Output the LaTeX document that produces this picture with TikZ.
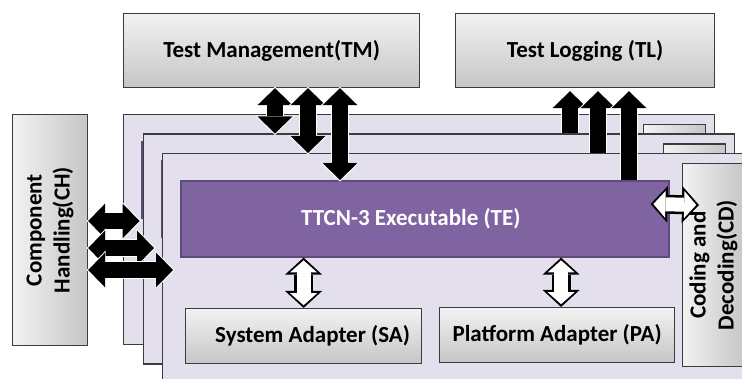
\documentclass[tikz,border=0pt]{standalone}
\usepackage{fontspec}
\setmainfont{Carlito}
\usepackage{tikz}
\usetikzlibrary{arrows.meta, calc}

\definecolor{lavender}{HTML}{E4DFEC}
\definecolor{tefill}{HTML}{8064A2}
\definecolor{tedraw}{HTML}{5E4A7C}
\definecolor{edge}{HTML}{3C3C3C}

\tikzset{
  blk/.tip  = {Triangle[length=17pt, width=35pt, line width=0pt]},
  blko/.tip = {Triangle[length=19pt, width=39pt, line width=0pt]},
  wht/.tip  = {Triangle[length=12pt, width=27pt, line width=0pt]},
  whto/.tip = {Triangle[length=17pt, width=37pt, line width=0pt]},
}

\begin{document}
\begin{tikzpicture}[x=1pt, y=-1pt,
  bigfont/.style  = {font=\fontsize{23}{28}\selectfont\bfseries},
  greybox/.style  = {draw=edge, line width=1.2pt, top color=gray!10,
                     bottom color=gray!45, inner sep=0pt, anchor=north west},
  sidebox/.style  = {draw=edge, line width=1.2pt, left color=gray!10,
                     right color=gray!45, inner sep=0pt, anchor=north west},
  sidetext/.style = {rotate=90, align=center, bigfont},
  layerbox/.style = {draw=edge, line width=1.3pt, fill=lavender,
                     minimum width=591pt, minimum height=230pt, anchor=north west},
  tebox/.style    = {draw=tedraw, line width=1.6pt, fill=tefill, inner sep=0pt,
                     minimum width=488pt, minimum height=76pt, anchor=north west},
  blkdbl/.style   = {line width=16pt, arrows={blk-blk},
                     preaction={draw=white, line width=18pt, arrows={blko-blko},
                                shorten <=-1.5pt, shorten >=-1.5pt}},
  blkup/.style    = {line width=16pt, arrows={-blk},
                     preaction={draw=white, line width=18pt, arrows={-blko},
                                shorten >=-1.5pt}},
  whdbl/.style    = {draw=white, line width=14pt, arrows={wht-wht},
                     shorten <=2.8pt, shorten >=2.8pt,
                     preaction={draw=black, line width=19pt, arrows={whto-whto},
                                shorten <=0pt, shorten >=0pt}},
]
\useasboundingbox (0,0) rectangle (742,379);
\clip (0,0) rectangle (742,379);

%% outer services
\node[greybox, bigfont, minimum width=296pt, minimum height=74pt] (tm) at (123,13)
  {Test Management(TM)};
\node[greybox, bigfont, minimum width=259pt, minimum height=74pt] (tl) at (455,13)
  {Test Logging (TL)};
\node[sidebox, minimum width=75pt, minimum height=231pt] (ch) at (12,114) {};
\node[sidetext] at (ch.center) {Component\\Handling(CH)};

%% stacked layers, one per test component (front one last)
\foreach \i/\d in {1/0, 2/19.5, 3/39}{
  \pgfmathsetmacro{\lx}{123+\d}
  \pgfmathsetmacro{\ly}{114+\d}
  \node[layerbox] (layer\i) at (\lx,\ly) {};
  \node[tebox] (te\i) at (\lx+18,\ly+27) {};
  \node[sidebox, minimum width=62pt, minimum height=203pt] (cd\i) at (\lx+520,\ly+10) {};
}

%% front layer contents
\node[bigfont, white] at ([xshift=-14pt]te3.center) {TTCN-3 Executable (TE)};
\node[sidetext] at (cd3.center) {Coding and\\Decoding(CD)};
\node[greybox, minimum width=236pt, minimum height=55pt] (sa) at (185,308) {};
\node[bigfont] at ([xshift=9pt]sa.center) {System Adapter (SA)};
\node[greybox, bigfont, minimum width=235pt, minimum height=55pt] (pa) at (439,307)
  {Platform Adapter (PA)};

\draw[whdbl] (sa.north |- te3.south) -- (sa.north);
\draw[whdbl] ($(pa.north |- te3.south)+(4,0)$) -- ($(pa.north)+(4,0)$);
\draw[whdbl] ($(te3.north east)+(-19,24)$) -- ($(cd3.north west)+(17,42)$);

%% management, logging and component handling links
\foreach \x/\tgt in {275/layer2.north, 308/layer3.north, 340/te3.north}
  \draw[blkdbl] (tm.south -| \x,0) -- (\tgt -| \x,0);
\foreach \x/\src in {570/layer2.north, 598/layer3.north, 629/te3.north}
  \draw[blkup] (\src -| \x,0) -- ($(tl.south -| \x,0)+(0,3)$);
\foreach \y/\tgt/\gap in {221/layer2.west/3, 248/layer3.west/8, 270/te3.west/7}
  \draw[blkdbl] (ch.east |- 0,\y) -- ($(\tgt |- 0,\y)+(-\gap,0)$);

\end{tikzpicture}
\end{document}
